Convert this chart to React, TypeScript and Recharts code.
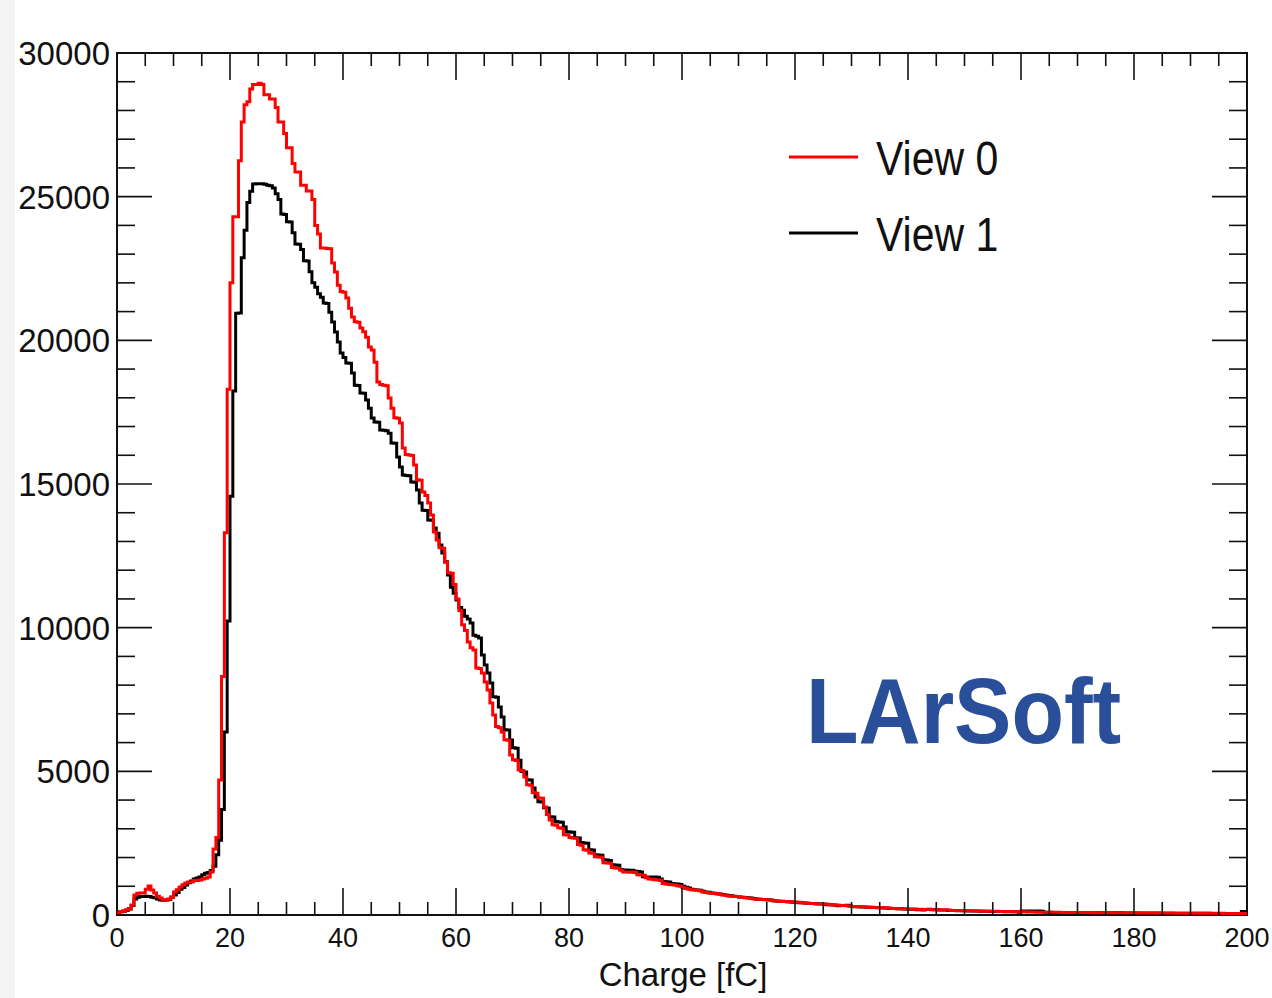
import React from 'react';
import { ComposedChart, Line, XAxis, YAxis, ReferenceArea } from 'recharts';

// histogram bins are 0.5 fC wide, 0..200 fC
const BIN_WIDTH = 0.5;

// View 0 (red), counts per bin
const view0Rise = [
  80, 120, 140, 180, 200, 350, 700, 760, 770, 770,
  900, 1010, 870, 765, 650, 590, 520, 520, 560, 630,
  800, 880, 975, 1050, 1110, 1150, 1150, 1200, 1200, 1220,
  1250, 1280, 1320, 1500, 2300, 2700, 4700, 8300, 13300, 18300,
  22000, 24300, 24300, 26250, 27600, 28200, 28300, 28750, 28900, 28900,
  28950, 28900, 28550, 28550, 28400, 28400, 28100, 27600, 27600, 27200,
  26700, 26700, 26150, 25860, 25860, 25400, 25400, 25200, 25200, 24900,
  24000, 23700, 23210, 23210, 23200, 23190, 22690, 22380, 21920, 21700,
  21670, 21470, 21120, 20810, 20650, 20630, 20430, 20300, 20110, 19770,
  19660, 19240, 18550, 18460, 18440, 18420, 17990, 17640, 17310, 17290,
];
const view0Fall = [
  17120, 16250, 16030, 16010, 15990, 15660, 15150, 15130, 14720, 14600,
  14340, 13920, 13330, 13050, 12780, 12760, 12280, 11910, 11890, 11500,
  11000, 10600, 10100, 9900, 9500, 9300, 9220, 8600, 8580, 8420,
  8110, 7830, 7380, 6960, 6560, 6520, 6370, 6100, 6080, 5570,
  5400, 5380, 5050, 5030, 4800, 4530, 4520, 4260, 4240, 4070,
  4060, 3760, 3500, 3310, 3140, 3120, 3040, 3020, 2790, 2780,
  2700, 2680, 2670, 2450, 2430, 2270, 2250, 2160, 2150, 2030,
  2020, 2010, 1820, 1810, 1800, 1650, 1640, 1630, 1560, 1500,
  1500, 1490, 1500, 1480, 1400, 1390, 1380, 1300, 1250, 1240,
  1230, 1220, 1200, 1100, 1080, 1060, 1050, 1040, 1020, 1000,
];
const view0Tail = [
  960, 920, 900, 880, 870, 860, 840, 800, 780, 770,
  760, 750, 740, 720, 700, 690, 660, 650, 640, 640,
  630, 610, 600, 590, 570, 560, 550, 550, 540, 530,
  520, 510, 500, 490, 480, 470, 470, 460, 460, 450,
  440, 440, 430, 420, 410, 400, 400, 390, 390, 380,
  380, 370, 360, 360, 350, 340, 330, 330, 320, 310,
  300, 300, 290, 290, 280, 280, 270, 270, 260, 260,
  250, 250, 240, 240, 230, 230, 220, 220, 220, 210,
  210, 210, 200, 200, 200, 190, 190, 190, 180, 180,
  180, 170, 170, 170, 170, 160, 160, 160, 160, 150,
  150, 150, 150, 140, 140, 140, 140, 130, 130, 130,
  130, 130, 120, 120, 120, 120, 120, 110, 110, 110,
  110, 110, 105, 105, 105, 100, 100, 100, 100, 100,
  95, 95, 95, 95, 90, 90, 90, 90, 90, 90,
  85, 85, 85, 85, 85, 80, 80, 80, 80, 80,
  80, 78, 78, 78, 76, 76, 76, 75, 75, 74,
  74, 73, 72, 72, 71, 70, 70, 70, 69, 68,
  68, 67, 66, 66, 65, 65, 64, 64, 63, 63,
  62, 62, 61, 61, 60, 60, 60, 59, 58, 58,
  57, 57, 56, 56, 55, 55, 54, 54, 53, 53,
];

// View 1 (black)
const view1Rise = [
  80, 110, 130, 160, 220, 330, 560, 620, 640, 640,
  650, 640, 620, 600, 560, 520, 510, 520, 540, 620,
  700, 780, 900, 960, 1040, 1120, 1180, 1250, 1290, 1320,
  1400, 1450, 1480, 1550, 1700, 2100, 2600, 3670, 6370, 10230,
  14570, 18240, 20940, 20950, 22870, 23830, 24800, 25190, 25440, 25450,
  25450, 25450, 25430, 25400, 25380, 25300, 25100, 24900, 24400, 24380,
  24130, 24120, 23740, 23350, 23340, 23160, 22770, 22760, 22390, 22000,
  21850, 21620, 21500, 21300, 21280, 20980, 20640, 20290, 19940, 19560,
  19400, 19210, 19200, 18860, 18440, 18430, 18170, 18160, 17920, 17640,
  17300, 17160, 17150, 16880, 16870, 16850, 16770, 16430, 16420, 15940,
];
const view1Fall = [
  15590, 15310, 15300, 15290, 15070, 15060, 14790, 14340, 14090, 14080,
  13750, 13740, 13470, 13290, 12880, 12600, 12290, 11830, 11410, 11200,
  10960, 10700, 10610, 10400, 10300, 10160, 9740, 9700, 9640, 9050,
  8700, 8420, 8070, 7600, 7580, 7240, 6890, 6450, 6440, 6090,
  5820, 5800, 5390, 4990, 4980, 4710, 4700, 4420, 4110, 3940,
  3930, 3730, 3720, 3420, 3410, 3250, 3240, 3230, 3060, 2900,
  2890, 2880, 2690, 2680, 2520, 2510, 2500, 2270, 2260, 2100,
  2090, 2080, 1920, 1910, 1900, 1750, 1740, 1730, 1580, 1570,
  1570, 1560, 1560, 1520, 1510, 1500, 1330, 1320, 1320, 1310,
  1320, 1310, 1250, 1170, 1160, 1150, 1100, 1090, 1080, 1060,
];
const view1Tail = [
  1000, 970, 940, 900, 880, 870, 860, 830, 800, 790,
  770, 760, 740, 730, 710, 700, 680, 670, 650, 640,
  630, 620, 610, 600, 590, 570, 560, 550, 540, 540,
  530, 520, 500, 490, 480, 480, 470, 460, 450, 440,
  440, 430, 430, 420, 410, 400, 400, 390, 380, 380,
  370, 360, 360, 350, 340, 320, 330, 330, 340, 310,
  300, 290, 290, 280, 280, 270, 270, 260, 260, 250,
  250, 240, 240, 230, 230, 230, 220, 220, 210, 210,
  200, 200, 200, 180, 180, 170, 190, 200, 190, 180,
  180, 170, 170, 170, 160, 160, 160, 150, 150, 150,
  150, 140, 140, 140, 140, 130, 130, 130, 130, 120,
  120, 120, 120, 120, 110, 110, 110, 110, 110, 100,
  140, 140, 140, 140, 140, 135, 135, 130, 95, 95,
  95, 90, 90, 90, 90, 90, 85, 85, 85, 85,
  85, 80, 80, 80, 80, 80, 80, 78, 78, 78,
  76, 76, 75, 75, 74, 74, 73, 72, 72, 71,
  70, 70, 70, 69, 68, 68, 67, 66, 66, 65,
  65, 64, 64, 63, 63, 62, 62, 61, 61, 60,
  60, 60, 59, 58, 58, 57, 57, 56, 56, 55,
  55, 54, 54, 53, 53, 52, 52, 51, 120, 110,
];

const xTicks = [
  0, 5, 10, 15, 20, 25, 30, 35, 40, 45, 50, 55, 60, 65, 70, 75, 80, 85, 90, 95, 100,
  105, 110, 115, 120, 125, 130, 135, 140, 145, 150, 155, 160, 165, 170, 175, 180, 185, 190, 195, 200,
];
const yTicks = [
  0, 1000, 2000, 3000, 4000, 5000, 6000, 7000, 8000, 9000, 10000, 11000, 12000, 13000, 14000, 15000,
  16000, 17000, 18000, 19000, 20000, 21000, 22000, 23000, 24000, 25000, 26000, 27000, 28000, 29000, 30000,
];

const view0 = [...view0Rise, ...view0Fall, ...view0Tail];
const view1 = [...view1Rise, ...view1Fall, ...view1Tail];
const data = view0.map((v, i) => ({ charge: i * BIN_WIDTH, view0: v, view1: view1[i] }));
data.push({ charge: view0.length * BIN_WIDTH, view0: view0[view0.length - 1], view1: view1[view1.length - 1] });

const W = 1272;
const H = 998;
const PLOT_W = 1130;
const PLOT_H = 862;
const FONT = '"Liberation Sans", Arial, Helvetica, sans-serif';

const XTick = (props: any) => {
  const { x, y, payload } = props;
  const v = payload.value;
  const major = v % 20 === 0;
  const len = major ? 27 : 13;
  const inside = v > 0 && v < 200;
  return (
    <g>
      {inside && <line x1={x} x2={x} y1={y} y2={y - len} stroke="#111" strokeWidth={1.6} />}
      {inside && <line x1={x} x2={x} y1={y - PLOT_H} y2={y - PLOT_H + len} stroke="#111" strokeWidth={1.6} />}
      {major && (
        <text x={x} y={y + 32} textAnchor="middle" fontSize={27} fontFamily={FONT} fill="#111">
          {v}
        </text>
      )}
    </g>
  );
};

const YTick = (props: any) => {
  const { x, y, payload } = props;
  const v = payload.value;
  const major = v % 5000 === 0;
  const len = major ? 35 : 18;
  const inside = v > 0 && v < 30000;
  return (
    <g>
      {inside && <line x1={x} x2={x + len} y1={y} y2={y} stroke="#111" strokeWidth={1.6} />}
      {inside && <line x1={x + PLOT_W - len} x2={x + PLOT_W} y1={y} y2={y} stroke="#111" strokeWidth={1.6} />}
      {major && (
        <text x={x - 7} y={y + 12} textAnchor="end" fontSize={33} fontFamily={FONT} fill="#111">
          {v}
        </text>
      )}
    </g>
  );
};

export default function App() {
  return (
    <div style={{ position: 'absolute', left: 0, top: 0, width: W, height: H, background: '#fff' }}>
      <div style={{ position: 'absolute', left: 0, top: 0, width: 15, height: H, background: '#f4f4f4' }} />
      <ComposedChart width={W} height={H} data={data} margin={{ top: 53, right: 25, bottom: 0, left: 0 }}>
        <XAxis
          dataKey="charge"
          type="number"
          domain={[0, 200]}
          ticks={xTicks}
          interval={0}
          tick={<XTick />}
          tickLine={false}
          axisLine={false}
          tickSize={0}
          tickMargin={0}
          height={83}
          allowDataOverflow
        />
        <YAxis
          type="number"
          domain={[0, 30000]}
          ticks={yTicks}
          interval={0}
          tick={<YTick />}
          tickLine={false}
          axisLine={false}
          tickSize={0}
          tickMargin={0}
          width={117}
          allowDataOverflow
        />
        <Line
          type="stepAfter"
          dataKey="view1"
          stroke="#000"
          strokeWidth={3}
          dot={false}
          activeDot={false}
          isAnimationActive={false}
        />
        <Line
          type="stepAfter"
          dataKey="view0"
          stroke="#ff0000"
          strokeWidth={3}
          dot={false}
          activeDot={false}
          isAnimationActive={false}
        />
        <ReferenceArea x1={0} x2={200} y1={0} y2={30000} fill="none" fillOpacity={0} stroke="#111" strokeWidth={2} ifOverflow="visible" />
      </ComposedChart>
      <svg width={W} height={H} style={{ position: 'absolute', left: 0, top: 0, pointerEvents: 'none' }}>
        <text x={683} y={986} textAnchor="middle" fontSize={33} fontFamily={FONT} fill="#111">
          Charge [fC]
        </text>
        <line x1={789} x2={858} y1={157} y2={157} stroke="#ff0000" strokeWidth={3} />
        <line x1={789} x2={858} y1={233} y2={233} stroke="#000" strokeWidth={3} />
        <text transform="translate(876,175) scale(1,1.15)" fontSize={41} fontFamily={FONT} fill="#111">
          View 0
        </text>
        <text transform="translate(876,251) scale(1,1.15)" fontSize={41} fontFamily={FONT} fill="#111">
          View 1
        </text>
        <text transform="translate(806,743) scale(1,1.08)" fontSize={86} fontWeight="bold" fontFamily={FONT} fill="#2a4f9a">
          LArSoft
        </text>
      </svg>
    </div>
  );
}
